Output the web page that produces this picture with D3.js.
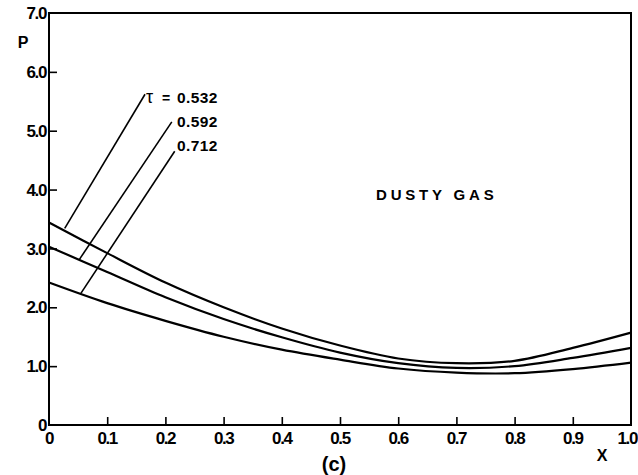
<!DOCTYPE html>
<html>
<head>
<meta charset="utf-8">
<script src="https://cdn.jsdelivr.net/npm/d3@7/dist/d3.min.js"></script>
<style>
  body { margin: 0; background: #fff; }
  text { font-family: "Liberation Sans", "DejaVu Sans", sans-serif; fill: #000; }
  .tick-lab { font-size: 17px; font-weight: bold; letter-spacing: -1.4px; }
</style>
</head>
<body>
<div id="plot"></div>
<script>
// Dusty gas pressure profiles, panel (c)

var xValues = [0, 0.1, 0.2, 0.3, 0.4, 0.5, 0.6, 0.7, 0.8, 0.9, 1.0];
var p532 = [3.44, 2.92, 2.42, 2.00, 1.64, 1.35, 1.13, 1.05, 1.09, 1.31, 1.57];
var p592 = [3.03, 2.60, 2.17, 1.80, 1.49, 1.23, 1.05, 0.97, 1.00, 1.14, 1.31];
var p712 = [2.42, 2.07, 1.77, 1.50, 1.28, 1.11, 0.96, 0.89, 0.88, 0.95, 1.06];

var xTicks = [0, 0.1, 0.2, 0.3, 0.4, 0.5, 0.6, 0.7, 0.8, 0.9, 1.0];
var xTickLabels = ["0", "0.1", "0.2", "0.3", "0.4", "0.5", "0.6", "0.7", "0.8", "0.9", "1.0"];
var yTicks = [0, 1, 2, 3, 4, 5, 6, 7];
var yTickLabels = ["0", "1.0", "2.0", "3.0", "4.0", "5.0", "6.0", "7.0"];

// leader lines: [x on curve, P on curve, x at label, P at label]
var tauLabels = ["0.532", "0.592", "0.712"];
var tauLabelP = [5.47, 5.07, 4.66];
var leaders = [
  [0.027, 3.34, 0.165, 5.62],
  [0.052, 2.81, 0.211, 5.15],
  [0.055, 2.24, 0.216, 4.65]
];

var svgWidth = 638;
var svgHeight = 475;

var svg = d3.select("#plot")
  .append("svg")
  .attr("width", svgWidth)
  .attr("height", svgHeight);

var xScale = d3.scaleLinear().domain([0, 1]).range([49, 631]);
var yScale = d3.scaleLinear().domain([0, 7]).range([425, 13]);

// frame
svg.append("rect")
  .attr("x", xScale(0))
  .attr("y", yScale(7))
  .attr("width", xScale(1) - xScale(0))
  .attr("height", yScale(0) - yScale(7))
  .attr("fill", "none")
  .attr("stroke", "#000")
  .attr("stroke-width", 2);

// ticks pointing inward
var bottomAxis = d3.axisTop(xScale)
  .tickValues(xTicks.slice(1, -1))
  .tickSize(8)
  .tickFormat("");
svg.append("g")
  .attr("transform", `translate(0, ${yScale(0)})`)
  .call(bottomAxis)
  .call(g => g.select(".domain").remove())
  .call(g => g.selectAll("line").attr("stroke-width", 1.6));

var leftAxis = d3.axisRight(yScale)
  .tickValues(yTicks.slice(1, -1))
  .tickSize(8)
  .tickFormat("");
svg.append("g")
  .attr("transform", `translate(${xScale(0)}, 0)`)
  .call(leftAxis)
  .call(g => g.select(".domain").remove())
  .call(g => g.selectAll("line").attr("stroke-width", 1.6));

// tick labels (last one pulled in so it stays on the page)
svg.selectAll(".xlab")
  .data(xTicks)
  .enter()
  .append("text")
  .attr("class", "tick-lab")
  .attr("x", (d, i) => i === xTicks.length - 1 ? 637 : xScale(d))
  .attr("y", 444)
  .attr("text-anchor", (d, i) => i === xTicks.length - 1 ? "end" : "middle")
  .text((d, i) => xTickLabels[i]);

svg.selectAll(".ylab")
  .data(yTicks)
  .enter()
  .append("text")
  .attr("class", "tick-lab")
  .attr("x", 46)
  .attr("y", d => yScale(d))
  .attr("dy", "0.36em")
  .attr("text-anchor", "end")
  .text((d, i) => yTickLabels[i]);

// axis titles
svg.append("text")
  .attr("x", 23).attr("y", 48)
  .attr("text-anchor", "middle")
  .style("font-size", "16px").style("font-weight", "bold")
  .text("P");

svg.append("text")
  .attr("x", 602).attr("y", 461)
  .attr("text-anchor", "middle")
  .style("font-size", "16px").style("font-weight", "bold")
  .text("X");

svg.append("text")
  .attr("x", 334).attr("y", 471)
  .attr("text-anchor", "middle")
  .style("font-size", "20px").style("font-weight", "bold")
  .text("(c)");

svg.append("text")
  .attr("x", 376).attr("y", 200)
  .style("font-size", "15px").style("font-weight", "bold")
  .style("letter-spacing", "3.8px")
  .text("DUSTY GAS");

// curves
var series = [p532, p592, p712];
var line = d3.line()
  .x((d, i) => xScale(xValues[i]))
  .y(d => yScale(d))
  .curve(d3.curveCatmullRom.alpha(0.5));

svg.selectAll(".curve")
  .data(series)
  .enter()
  .append("path")
  .attr("class", "curve")
  .attr("d", d => line(d))
  .attr("fill", "none")
  .attr("stroke", "#000")
  .attr("stroke-width", 2.2);

// leader lines and tau labels
svg.selectAll(".leader")
  .data(leaders)
  .enter()
  .append("line")
  .attr("x1", d => xScale(d[0]))
  .attr("y1", d => yScale(d[1]))
  .attr("x2", d => xScale(d[2]))
  .attr("y2", d => yScale(d[3]))
  .attr("stroke", "#000")
  .attr("stroke-width", 1.6);

svg.selectAll(".taulab")
  .data(tauLabels)
  .enter()
  .append("text")
  .attr("x", 177)
  .attr("y", (d, i) => yScale(tauLabelP[i]))
  .style("font-size", "15.5px").style("font-weight", "bold")
  .style("letter-spacing", "0.4px")
  .text(d => d);

svg.append("text")
  .attr("x", 146)
  .attr("y", yScale(tauLabelP[0]))
  .style("font-size", "18px")
  .text("\u03C4");
svg.append("text")
  .attr("x", 162)
  .attr("y", yScale(tauLabelP[0]))
  .style("font-size", "14px").style("font-weight", "bold")
  .text("=");
</script>
</body>
</html>
